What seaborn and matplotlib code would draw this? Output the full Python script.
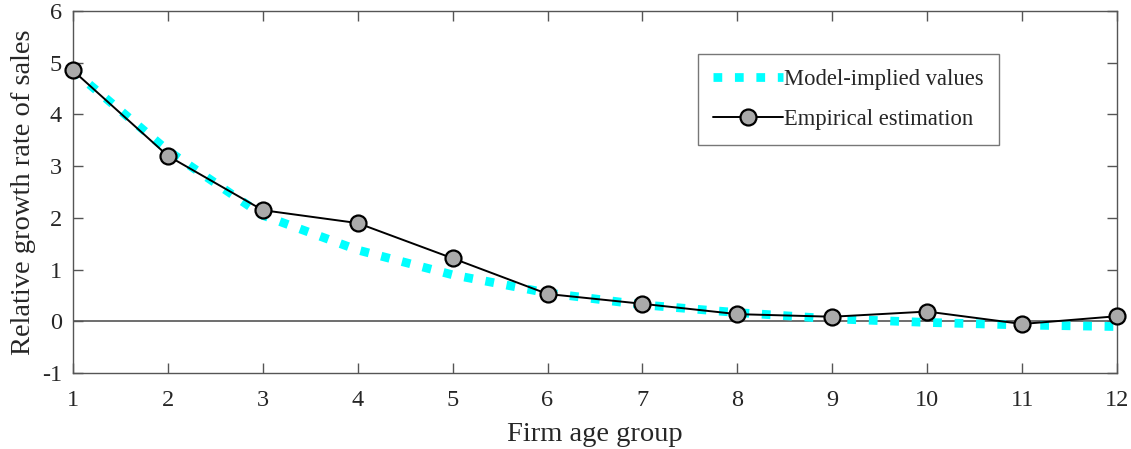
import matplotlib
matplotlib.use("Agg")
import matplotlib.pyplot as plt
import seaborn as sns

# Firm age groups and the two series
age_group = [1, 2, 3, 4, 5, 6, 7, 8, 9, 10, 11, 12]
model_implied = [4.85, 3.3, 2.05, 1.38, 0.9, 0.55, 0.32, 0.17, 0.05, -0.02, -0.07, -0.1]
empirical = [4.85, 3.2, 2.15, 1.9, 1.22, 0.53, 0.34, 0.14, 0.09, 0.19, -0.05, 0.1]

sns.set_style("ticks")
plt.rcParams['font.family'] = ['Liberation Serif', 'DejaVu Serif']

fig, ax = plt.subplots(figsize=(11.31, 4.49), dpi=100)
fig.subplots_adjust(left=0.0645, right=0.9876, top=0.9755, bottom=0.169)

ax.axhline(0, color='#555555', lw=1.2, zorder=1)

sns.lineplot(x=age_group, y=model_implied, ax=ax, color='#00ffff', lw=6.3,
             linestyle=(0, (1, 1.45)), label='Model-implied values', zorder=2)
sns.lineplot(x=age_group, y=empirical, ax=ax, color='black', lw=1.4,
             marker='o', markersize=11.5, markerfacecolor='#aaaaaa',
             markeredgecolor='black', markeredgewidth=1.6,
             label='Empirical estimation', zorder=3, clip_on=False)

ax.set_xlim(1, 12)
ax.set_ylim(-1, 6)
ax.set_xticks(age_group)
ax.set_yticks(range(-1, 7))
ax.set_yticklabels(['-1', '0', '1', '2', '3', '4', '5', '6'])
ax.set_xlabel('Firm age group', fontsize=20.5, color='#262626', labelpad=8)
ax.set_ylabel('Relative growth rate of sales', fontsize=20.5, color='#262626', labelpad=4)

for side in ['top', 'right', 'left', 'bottom']:
    ax.spines[side].set_visible(True)
    ax.spines[side].set_color('#555555')
    ax.spines[side].set_linewidth(1.0)
ax.tick_params(direction='in', top=True, right=True, length=7, width=1,
               color='#555555', labelsize=17.5, labelcolor='#262626')
ax.tick_params(axis='x', pad=12)
ax.tick_params(axis='y', pad=8)

leg = ax.legend(loc='upper left', bbox_to_anchor=(0.599, 0.88), fontsize=16.3,
                frameon=True, fancybox=False, edgecolor='#555555',
                handlelength=3.1, handletextpad=0.05, borderpad=0.65,
                labelspacing=0.85, borderaxespad=0)
leg.get_frame().set_linewidth(1.0)

fig.savefig('out.png', dpi=100)
